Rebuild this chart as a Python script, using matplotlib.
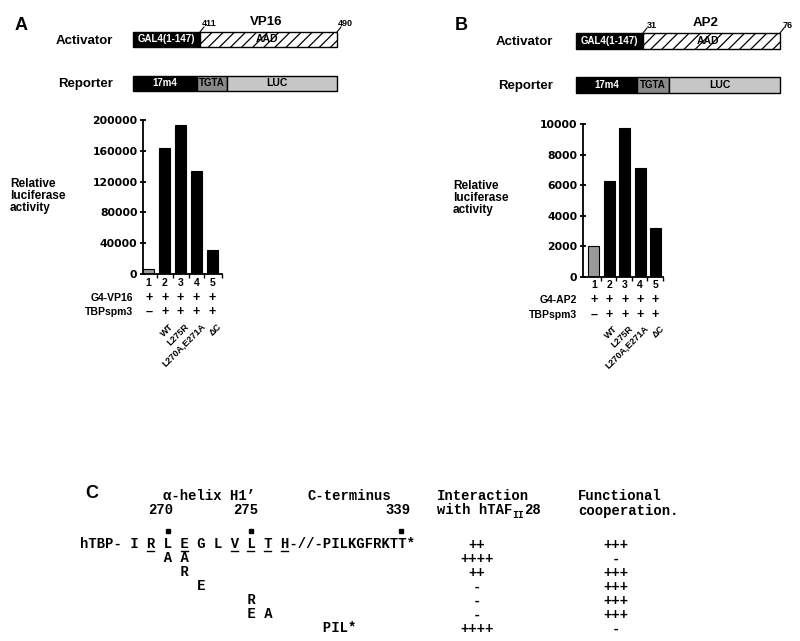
import matplotlib
matplotlib.use("Agg")
import matplotlib.pyplot as plt
from matplotlib.patches import Rectangle
from matplotlib import transforms
import numpy as np

plt.rcParams["font.family"] = ["Liberation Sans", "DejaVu Sans"]
plt.rcParams["hatch.linewidth"] = 0.9

# -------------------------
# Data
# -------------------------
lanes = ["1", "2", "3", "4", "5"]
mutants = ["", "WT", "L275R", "L270A,E271A", "\u0394C"]
g4_row = ["+", "+", "+", "+", "+"]
tbp_row = ["\u2013", "+", "+", "+", "+"]
vp16_activity = [6500, 164000, 194000, 134000, 31000]
ap2_activity = [2000, 6250, 9750, 7150, 3200]
vp16_ticks = [0, 40000, 80000, 120000, 160000, 200000]
ap2_ticks = [0, 2000, 4000, 6000, 8000, 10000]

# panel C
hTBP_seq = "hTBP- I R L E G L V L T H-//-PILKGFRKTT*"
underlined = [8, 12, 18, 20, 22, 24]
marked = [10, 20, 38]
mutant_rows = [
    "          A A",
    "            R",
    "              E",
    "                    R",
    "                    E A",
    "                             PIL*",
]
taf_interaction = ["++", "++++", "++", "-", "-", "-", "++++"]
cooperation = ["+++", "-", "+++", "+++", "+++", "+++", "-"]

# -------------------------
# Figure in pixel coordinates
# -------------------------
W, H = 800, 641
fig = plt.figure(figsize=(W / 100, H / 100), dpi=100)
bg = fig.add_axes([0, 0, 1, 1])
bg.set_xlim(0, W)
bg.set_ylim(H, 0)
bg.axis("off")


def px_axes(x0, y0, x1, y1):
    return fig.add_axes([x0 / W, 1 - y1 / H, (x1 - x0) / W, (y1 - y0) / H])


def bold(x, y, s, size=8, **kw):
    kw.setdefault("ha", "center")
    kw.setdefault("va", "center")
    bg.text(x, y, s, fontsize=size, fontweight="bold", **kw)


def constructs(x0, x1, act_y, rep_y, gal_end, start_lbl, end_lbl, name, name_x,
               aad_x, blk_end, tgta_end, lbl_right):
    # activator
    bg.add_patch(Rectangle((x0, act_y[0]), gal_end - x0, act_y[1] - act_y[0],
                           fc="black", ec="black", lw=1))
    bg.add_patch(Rectangle((gal_end, act_y[0]), x1 - gal_end, act_y[1] - act_y[0],
                           fc="white", ec="black", lw=1, hatch="///"))
    bold((x0 + gal_end) / 2, (act_y[0] + act_y[1]) / 2, "GAL4(1-147)", 7, color="white")
    bold(aad_x, (act_y[0] + act_y[1]) / 2, "AAD", 7.5)
    for xx in (gal_end, x1):
        bg.plot([xx, xx + 4], [act_y[0], act_y[0] - 5], color="black", lw=0.8)
    bold(gal_end + 9, act_y[0] - 8, start_lbl, 6.5)
    bold(x1 + 8, act_y[0] - 8, end_lbl, 6.5)
    bold(name_x, act_y[0] - 10, name, 9.5)
    bold(lbl_right, (act_y[0] + act_y[1]) / 2 + 1, "Activator", 9.5, ha="right")
    # reporter
    h = rep_y[1] - rep_y[0]
    bg.add_patch(Rectangle((x0, rep_y[0]), blk_end - x0, h, fc="black", ec="black", lw=1))
    bg.add_patch(Rectangle((blk_end, rep_y[0]), tgta_end - blk_end, h, fc="#8a8a8a", ec="black", lw=1))
    bg.add_patch(Rectangle((tgta_end, rep_y[0]), x1 - tgta_end, h, fc="#c6c6c6", ec="black", lw=1))
    ym = (rep_y[0] + rep_y[1]) / 2
    bold((x0 + blk_end) / 2, ym, "17m4", 7, color="white")
    bold((blk_end + tgta_end) / 2, ym, "TGTA", 7)
    bold((tgta_end + x1) / 2 - 5, ym, "LUC", 7.5)
    bold(lbl_right, ym + 1, "Reporter", 9.5, ha="right")


constructs(133, 337, (32, 47), (76, 91), 200, "411", "490", "VP16", 266, 267,
           197, 227, 113)
constructs(576, 780, (33, 49), (77, 93), 643, "31", "76", "AP2", 706, 708,
           637, 669, 553)

bold(21, 25, "A", 13)
bold(461, 26, "B", 13)
bold(92, 493, "C", 13)


# -------------------------
# Bar charts
# -------------------------
def bar_panel(box, values, ticks, xlim, xticks, row_name, rows_y, lbl_right, ylab_xy):
    ax = px_axes(*box)
    x = np.arange(len(values))
    colors = ["#9a9a9a"] + ["black"] * (len(values) - 1)
    ax.bar(x, values, width=0.72, color=colors, edgecolor="black", linewidth=0.8)
    ax.set_xlim(*xlim)
    ax.set_ylim(0, ticks[-1])
    ax.set_yticks(ticks)
    ax.set_xticks(xticks)
    ax.patch.set_alpha(0)
    for s in ("top", "right"):
        ax.spines[s].set_visible(False)
    ax.spines["left"].set_linewidth(1.3)
    ax.spines["bottom"].set_linewidth(1.3)
    ax.tick_params(axis="y", direction="inout", length=5, width=1.3, pad=1.5)
    ax.tick_params(axis="x", direction="out", length=3, width=1, labelbottom=False)
    for lbl in ax.get_yticklabels():
        lbl.set_fontweight("bold")
        lbl.set_family("DejaVu Sans")
        lbl.set_fontsize(7.8)

    trans = transforms.blended_transform_factory(ax.transData, bg.transData)
    num_y, g4_y, tbp_y, rot_y = rows_y
    for i in x:
        ax.text(i, num_y, lanes[i], transform=trans, ha="center", va="center",
                fontsize=7.5, fontweight="bold")
        ax.text(i, g4_y, g4_row[i], transform=trans, ha="center", va="center",
                fontsize=9, fontweight="bold")
        ax.text(i, tbp_y, tbp_row[i], transform=trans, ha="center", va="center",
                fontsize=9, fontweight="bold")
        if mutants[i]:
            ax.text(i + 0.25, rot_y, mutants[i], transform=trans, ha="right", va="top",
                    rotation=45, rotation_mode="anchor", fontsize=6.5, fontweight="bold")
    bold(lbl_right, g4_y, row_name, 7.5, ha="right")
    bold(lbl_right, tbp_y, "TBPspm3", 7.5, ha="right")
    bold(ylab_xy[0], ylab_xy[1], "Relative\nluciferase\nactivity", 8.5, ha="left",
         linespacing=1.05)
    return ax


bar_panel((143, 120, 222, 274), vp16_activity, vp16_ticks, (-0.36, 4.6),
          [0.5, 1.5, 2.5, 3.5, 4.6], "G4-VP16", (283, 298, 312, 322), 133, (10, 196))
bar_panel((583, 124, 663, 277), ap2_activity, ap2_ticks, (-0.71, 4.48),
          [0.45, 1.45, 2.45, 3.45, 4.48], "G4-AP2", (285, 300, 315, 324), 577, (453, 198))

# -------------------------
# Panel C: sequence table
# -------------------------
mono = dict(family="Liberation Mono", fontweight="bold", fontsize=10, va="baseline")
cw = 10 * 0.6 * 100 / 72  # char width in pixels
x0 = 80
bg.text(163, 500.5, "\u03b1-helix H1\u2019", ha="left", **mono)
bg.text(308, 500.5, "C-terminus", ha="left", **mono)
bg.text(148, 514.5, "270", ha="left", **mono)
bg.text(233, 514.5, "275", ha="left", **mono)
bg.text(385, 514.5, "339", ha="left", **mono)
bg.text(437, 500.5, "Interaction", ha="left", **mono)
bg.text(437, 514.5, "with hTAF", ha="left", **mono)
bg.text(437 + 9 * cw, 517.5, "II", ha="left", family="Liberation Mono",
        fontweight="bold", fontsize=7, va="baseline")
bg.text(437 + 9 * cw + 2 * 0.6 * 7 * 100 / 72, 514.5, "28", ha="left", **mono)
bg.text(578, 500.5, "Functional", ha="left", **mono)
bg.text(578, 514.5, "cooperation.", ha="left", **mono)

row_ys = [548.5, 562.5, 576.5, 590.5, 604.5, 618.5, 632.5]
bg.text(x0, row_ys[0], hTBP_seq, ha="left", **mono)
for i in underlined:
    bg.plot([x0 + i * cw + 0.8, x0 + (i + 1) * cw - 0.8], [550.5, 550.5], color="black", lw=1)
bg.plot([x0 + (i + 0.5) * cw for i in marked], [531] * len(marked), ls="none",
        marker="s", ms=3.5, color="black")
for s, y in zip(mutant_rows, row_ys[1:]):
    bg.text(x0, y, s, ha="left", **mono)
for a, b, y in zip(taf_interaction, cooperation, row_ys):
    bg.text(477, y, a, ha="center", **mono)
    bg.text(616, y, b, ha="center", **mono)

fig.savefig("out.png", dpi=100)
